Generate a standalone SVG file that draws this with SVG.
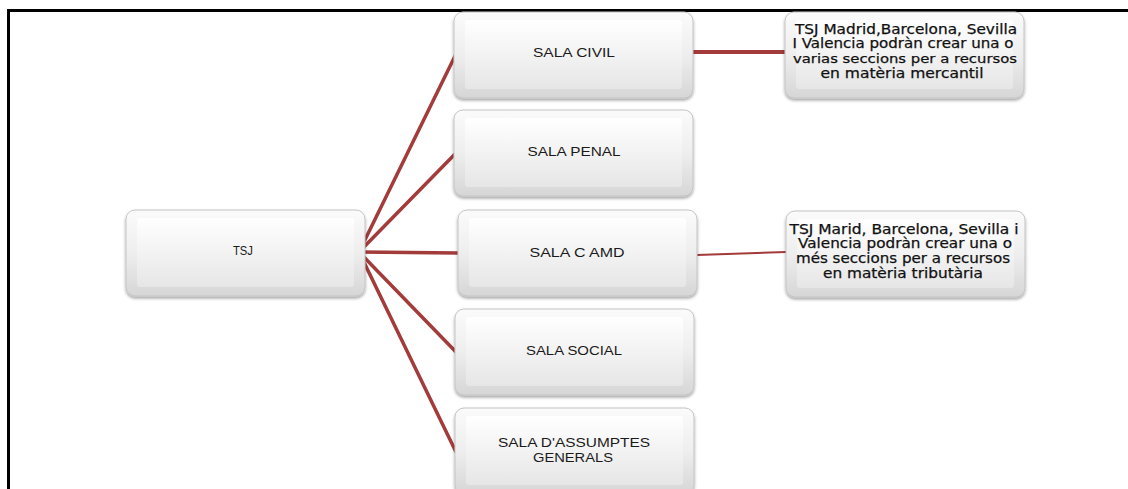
<svg xmlns="http://www.w3.org/2000/svg" width="1128" height="489" viewBox="0 0 1128 489">
<defs>
<linearGradient id="g" x1="0" y1="0" x2="0" y2="1">
<stop offset="0" stop-color="#fbfbfb"/>
<stop offset="0.5" stop-color="#eeeeee"/>
<stop offset="1" stop-color="#d6d6d6"/>
</linearGradient>
<linearGradient id="gi" x1="0" y1="0" x2="0" y2="1">
<stop offset="0" stop-color="#ffffff"/>
<stop offset="1" stop-color="#e6e6e6"/>
</linearGradient>
<filter id="sh" x="-10%" y="-10%" width="120%" height="130%">
<feDropShadow dx="0" dy="2" stdDeviation="1.5" flood-color="#000" flood-opacity="0.35"/>
</filter>
<g id="box">
<rect x="0" y="0" width="239" height="86" rx="9" fill="url(#g)" stroke="#c4c4c4" stroke-width="1" filter="url(#sh)"/>
<rect x="11" y="8" width="217" height="69" rx="3" fill="url(#gi)"/>
</g>
</defs>
<style>
.c{stroke:#a33b3b;stroke-width:3.5;fill:none;stroke-linecap:round}
.t{font-family:"Liberation Sans",Arial,sans-serif;font-size:12.5px;fill:#1a1a1a;text-anchor:middle}
.b{font-family:"DejaVu Sans","Liberation Sans",sans-serif;font-size:14px;fill:#111;text-anchor:middle;stroke:#111;stroke-width:0.25}
</style>
<rect width="1128" height="489" fill="#fff"/>
<path d="M8.5 489 V10.5 H1128" stroke="#000" stroke-width="3" fill="none"/>
<g id="connectors">
<line class="c" x1="359" y1="252" x2="456" y2="54"/>
<line class="c" x1="359" y1="252" x2="456" y2="153"/>
<line class="c" x1="359" y1="252" x2="458" y2="253"/>
<line class="c" x1="359" y1="252" x2="456" y2="352"/>
<line class="c" x1="359" y1="252" x2="456" y2="452"/>
<line class="c" x1="693" y1="52" x2="785" y2="52" style="stroke-width:4"/>
<line class="c" x1="697" y1="255" x2="786" y2="252" style="stroke-width:2"/>
</g>
<g id="tsj"><use href="#box" x="126" y="210"/><text class="t" x="243" y="255" textLength="20" lengthAdjust="spacingAndGlyphs">TSJ</text></g>
<g id="civil"><use href="#box" x="454" y="12"/><text class="t" x="574" y="57" textLength="82" lengthAdjust="spacingAndGlyphs">SALA CIVIL</text></g>
<g id="penal"><use href="#box" x="454" y="110"/><text class="t" x="574" y="156" textLength="93" lengthAdjust="spacingAndGlyphs">SALA PENAL</text></g>
<g id="camd"><use href="#box" x="458" y="210"/><text class="t" x="577" y="257" textLength="95" lengthAdjust="spacingAndGlyphs">SALA C  AMD</text></g>
<g id="social"><use href="#box" x="455" y="309"/><text class="t" x="574" y="355" textLength="96" lengthAdjust="spacingAndGlyphs">SALA SOCIAL</text></g>
<g id="generals"><use href="#box" x="455" y="408"/><text class="t" x="574" y="447" textLength="152" lengthAdjust="spacingAndGlyphs">SALA D'ASSUMPTES</text><text class="t" x="573" y="462" textLength="80" lengthAdjust="spacingAndGlyphs">GENERALS</text></g>
<g id="nota1"><use href="#box" x="785" y="12"/>
<text class="b" x="906" y="34" textLength="222" lengthAdjust="spacingAndGlyphs">TSJ Madrid,Barcelona, Sevilla</text>
<text class="b" x="903" y="48" textLength="221" lengthAdjust="spacingAndGlyphs">I Valencia podràn crear una o</text>
<text class="b" x="905" y="63" textLength="224" lengthAdjust="spacingAndGlyphs" style="font-size:12.5px">varias seccions per a recursos</text>
<text class="b" x="902" y="78" textLength="163" lengthAdjust="spacingAndGlyphs">en matèria mercantil</text>
</g>
<g id="nota2"><use href="#box" x="786" y="211"/>
<text class="b" x="904" y="234" textLength="229" lengthAdjust="spacingAndGlyphs">TSJ Marid, Barcelona, Sevilla i</text>
<text class="b" x="905" y="248" textLength="214" lengthAdjust="spacingAndGlyphs">Valencia podràn crear una o</text>
<text class="b" x="903" y="263" textLength="214" lengthAdjust="spacingAndGlyphs">més seccions per a recursos</text>
<text class="b" x="903" y="278" textLength="160" lengthAdjust="spacingAndGlyphs">en matèria tributària</text>
</g>
</svg>
